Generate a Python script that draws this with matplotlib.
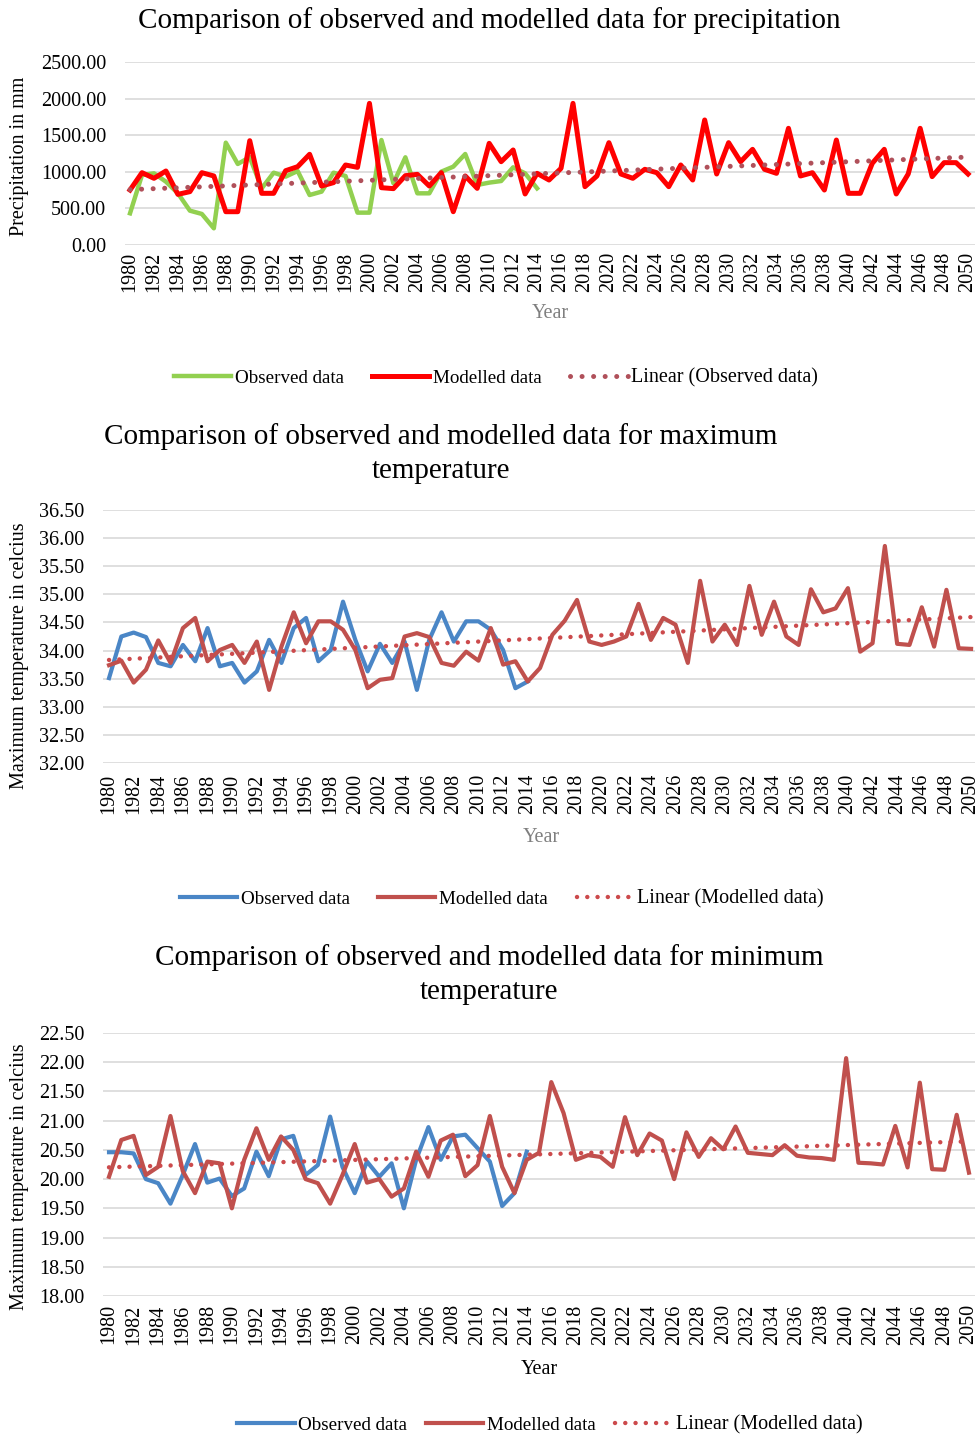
import numpy as np
import matplotlib
matplotlib.use("Agg")
import matplotlib.pyplot as plt

plt.rcParams['font.family'] = ['Liberation Serif', 'DejaVu Serif']

# data
years = list(range(1980, 2051))
obs_years = list(range(1980, 2015))
year_labels = [str(y) for y in range(1980, 2051, 2)]

precip_obs = [433, 956, 979, 865, 706, 469, 424, 228, 1398, 1107,
              1200, 774, 988, 934, 1011, 683, 729, 988, 943, 442,
              442, 1434, 843, 1198, 706, 706, 1002, 1070, 1243, 820,
              852, 874, 1061, 979, 774]
precip_mod = [751, 988, 911, 1011, 692, 729, 988, 943, 455, 455,
              1425, 706, 706, 1015, 1070, 1239, 806, 852, 1093, 1061,
              1935, 783, 770, 947, 965, 806, 988, 455, 943, 774,
              1389, 1138, 1298, 697, 979, 888, 1047, 1935, 797, 943,
              1398, 970, 911, 1034, 988, 797, 1093, 888, 1708, 970,
              1398, 1138, 1307, 1034, 979, 1594, 943, 988, 751, 1434,
              706, 706, 1116, 1307, 697, 970, 1594, 934, 1125, 1125, 970]

tmax_obs = [33.51, 34.25, 34.32, 34.24, 33.78, 33.72, 34.10, 33.81, 34.40, 33.72,
            33.78, 33.43, 33.63, 34.19, 33.78, 34.40, 34.58, 33.81, 34.01, 34.87,
            34.19, 33.63, 34.12, 33.78, 34.16, 33.30, 34.19, 34.68, 34.16, 34.52,
            34.52, 34.37, 34.01, 33.33, 33.45]
tmax_mod = [33.74, 33.82, 33.43, 33.66, 34.18, 33.78, 34.40, 34.58, 33.81, 34.01,
            34.10, 33.78, 34.16, 33.30, 34.07, 34.68, 34.13, 34.52, 34.52, 34.37,
            34.01, 33.33, 33.48, 33.51, 34.25, 34.31, 34.24, 33.78, 33.73, 33.98,
            33.82, 34.40, 33.75, 33.81, 33.45, 33.69, 34.28, 34.53, 34.90, 34.16,
            34.10, 34.16, 34.25, 34.83, 34.19, 34.58, 34.46, 33.78, 35.24, 34.16,
            34.46, 34.10, 35.15, 34.28, 34.87, 34.25, 34.10, 35.09, 34.68, 34.75,
            35.11, 33.98, 34.13, 35.86, 34.12, 34.10, 34.77, 34.07, 35.08, 34.04, 34.03]

tmin_obs = [20.46, 20.46, 20.44, 20.00, 19.93, 19.58, 20.07, 20.60, 19.94, 20.01,
            19.71, 19.84, 20.47, 20.05, 20.68, 20.74, 20.07, 20.24, 21.07, 20.21,
            19.76, 20.30, 20.04, 20.27, 19.50, 20.33, 20.89, 20.33, 20.73, 20.76,
            20.53, 20.30, 19.54, 19.76, 20.47]
tmin_mod = [20.04, 20.67, 20.74, 20.07, 20.21, 21.08, 20.14, 19.76, 20.30, 20.27,
            19.50, 20.33, 20.87, 20.33, 20.73, 20.50, 20.00, 19.93, 19.58, 20.07,
            20.60, 19.94, 20.00, 19.70, 19.84, 20.47, 20.04, 20.66, 20.76, 20.05,
            20.24, 21.08, 20.21, 19.76, 20.33, 20.45, 21.66, 21.13, 20.33, 20.41,
            20.38, 20.21, 21.06, 20.41, 20.78, 20.66, 20.00, 20.80, 20.38, 20.70,
            20.51, 20.90, 20.45, 20.43, 20.41, 20.58, 20.40, 20.37, 20.36, 20.33,
            22.07, 20.28, 20.27, 20.25, 20.91, 20.20, 21.65, 20.17, 20.16, 21.10, 20.11]

W, H = 978, 1436
fig = plt.figure(figsize=(W / 100, H / 100), dpi=100)


def fx(px):
    return px / W


def fy(py):
    return 1 - py / H


def make_ax(left, right, top, bottom):
    return fig.add_axes([fx(left), fy(bottom), (right - left) / W, (bottom - top) / H])


def trend(xs, ys, all_x):
    k, b = np.polyfit(xs, ys, 1)
    return [k * x + b for x in all_x]


def style_ax(ax, xlim, ylim, yticks, xpad):
    ax.set_xlim(*xlim)
    ax.set_ylim(*ylim)
    ax.set_yticks(yticks)
    ax.set_yticklabels(['%.2f' % v for v in yticks])
    ax.set_xticks(range(1980, 2051, 2))
    ax.set_xticklabels(year_labels, rotation=90)
    ax.grid(axis='y', color='#d9d9d9', lw=1.2)
    ax.set_axisbelow(True)
    for s in ax.spines.values():
        s.set_visible(False)
    ax.tick_params(axis='y', length=0, pad=13.5, labelsize=14.5)
    ax.tick_params(axis='x', length=0, pad=xpad, labelsize=14.5)


def add_legend(handles, cx, cy, colsp):
    leg = fig.legend(handles=handles, loc='center', bbox_to_anchor=(fx(cx), fy(cy)), ncol=3,
                     frameon=False, handlelength=3.0, handletextpad=0.2,
                     columnspacing=colsp, fontsize=13.7)
    leg.get_texts()[2].set_fontsize(14.5)
    return leg


dots = (0, (0.01, 2.3))
title_size = 21

# ---- precipitation
ax1 = make_ax(125, 975, 62, 245)
l1, = ax1.plot(obs_years, precip_obs, color='#92d050', lw=3.2, label='Observed data')
l2, = ax1.plot(years, precip_mod, color='#ff0000', lw=3.6, label='Modelled data')
l3, = ax1.plot(years, trend(obs_years, precip_obs, years), color='#b0505a', lw=3.6,
               ls=dots, dash_capstyle='round', label='Linear (Observed data)')
style_ax(ax1, (1979.58, 2050.58), (0, 2500), np.arange(0, 2501, 500), 5)
fig.text(fx(489), fy(21), 'Comparison of observed and modelled data for precipitation',
         ha='center', va='center', fontsize=title_size)
fig.text(fx(20), fy(156), 'Precipitation in mm', rotation=90, ha='center', va='center', fontsize=14.5)
fig.text(fx(550), fy(314), 'Year', ha='center', va='center', fontsize=14.5, color='#7f7f7f')
add_legend([l1, l2, l3], 496, 378, 1.5)

# ---- maximum temperature
ax2 = make_ax(103, 975, 510, 763)
b1, = ax2.plot(obs_years, tmax_obs, color='#4a86c6', lw=3, label='Observed data')
b2, = ax2.plot(years, tmax_mod, color='#c0504d', lw=3, label='Modelled data')
b3, = ax2.plot(years, trend(years, tmax_mod, years), color='#cc4a4c', lw=3.2,
               ls=dots, dash_capstyle='round', label='Linear (Modelled data)')
style_ax(ax2, (1979.51, 2050.32), (32, 36.5), np.arange(32, 36.51, 0.5), 8)
fig.text(fx(441), fy(437), 'Comparison of observed and modelled data for maximum',
         ha='center', va='center', fontsize=title_size)
fig.text(fx(441), fy(471), 'temperature', ha='center', va='center', fontsize=title_size)
fig.text(fx(20), fy(656), 'Maximum temperature in celcius', rotation=90, ha='center', va='center', fontsize=14.5)
fig.text(fx(541), fy(837), 'Year', ha='center', va='center', fontsize=14.5, color='#7f7f7f')
add_legend([b1, b2, b3], 502, 899, 1.5)

# ---- minimum temperature
ax3 = make_ax(103, 975, 1033, 1296)
c1, = ax3.plot(obs_years, tmin_obs, color='#4a86c6', lw=3, label='Observed data')
c2, = ax3.plot(years, tmin_mod, color='#c0504d', lw=3, label='Modelled data')
c3, = ax3.plot(years, trend(years, tmin_mod, years), color='#cc4a4c', lw=3.2,
               ls=dots, dash_capstyle='round', label='Linear (Modelled data)')
style_ax(ax3, (1979.51, 2050.49), (18, 22.5), np.arange(18, 22.51, 0.5), 6)
fig.text(fx(489), fy(958), 'Comparison of observed and modelled data for minimum',
         ha='center', va='center', fontsize=title_size)
fig.text(fx(489), fy(992), 'temperature', ha='center', va='center', fontsize=title_size)
fig.text(fx(20), fy(1177), 'Maximum temperature in celcius', rotation=90, ha='center', va='center', fontsize=14.5)
fig.text(fx(539), fy(1369), 'Year', ha='center', va='center', fontsize=14.5)
add_legend([c1, c2, c3], 550, 1425, 1.0)

fig.savefig('out.png', dpi=100)
